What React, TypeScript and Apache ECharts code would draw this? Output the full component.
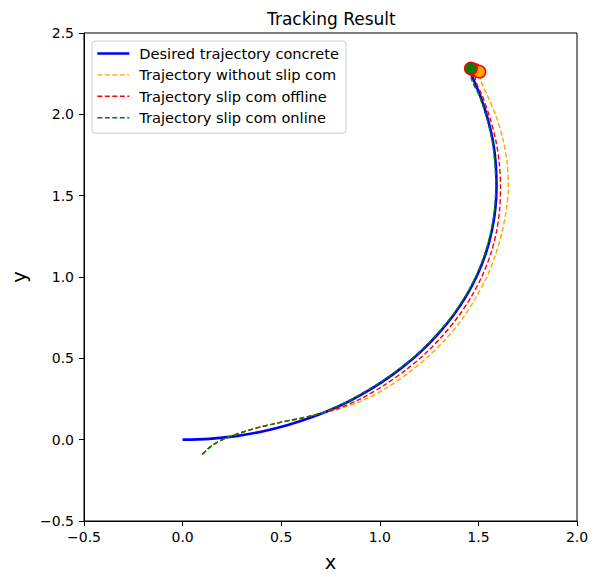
import React, { useEffect, useRef } from 'react';
import * as echarts from 'echarts';

// Desired trajectory (x, y)
const desired: [number, number][] = [
  [0.0, 0.0], [0.1359, 0.0049], [0.2709, 0.0217], [0.404, 0.0502], [0.5342, 0.0902],
  [0.661, 0.1405], [0.7835, 0.2009], [0.8999, 0.2728], [1.0105, 0.3538], [1.1137, 0.4443],
  [1.2096, 0.543], [1.2959, 0.6506], [1.3735, 0.765], [1.4401, 0.8865], [1.495, 1.0138],
  [1.5378, 1.146], [1.5678, 1.2815], [1.5859, 1.4192], [1.592, 1.558], [1.5879, 1.6969],
  [1.5737, 1.8355], [1.5474, 1.9726], [1.511, 2.108], [1.4655, 2.2414], [1.4551, 2.2677],
];

// Common start of the three tracked trajectories
const trackedStart: [number, number][] = [
  [0.1, -0.09], [0.125, -0.06], [0.15, -0.036], [0.175, -0.016], [0.2, -0.001],
  [0.23, 0.014], [0.26, 0.028], [0.3, 0.044], [0.35, 0.063], [0.4, 0.08],
  [0.45, 0.094], [0.5, 0.108], [0.55, 0.12], [0.6, 0.132], [0.65, 0.146], [0.7, 0.162],
];

// Trajectory without slip compensation (after the common start)
const withoutSlipRest: [number, number][] = [
  [0.791, 0.188], [0.92, 0.2441], [1.0381, 0.3208], [1.1462, 0.4118], [1.2463, 0.5122],
  [1.3369, 0.6219], [1.4168, 0.74], [1.4836, 0.8662], [1.5411, 0.9971], [1.5861, 1.133],
  [1.619, 1.2725], [1.6417, 1.4144], [1.652, 1.558], [1.6457, 1.702], [1.6249, 1.8445],
  [1.5909, 1.9843], [1.5439, 2.1199], [1.5142, 2.2008], [1.505, 2.262],
];

// Trajectory with slip compensation, offline (after the common start)
const slipOfflineRest: [number, number][] = [
  [0.7885, 0.1923], [0.9114, 0.2564], [1.0246, 0.3369], [1.1307, 0.4273], [1.2287, 0.527],
  [1.3164, 0.6363], [1.3952, 0.7525], [1.4628, 0.8759], [1.5185, 1.0053], [1.5619, 1.1395],
  [1.5915, 1.2774], [1.6079, 1.4173], [1.612, 1.558], [1.6059, 1.6985], [1.5885, 1.8381],
  [1.559, 1.9757], [1.5204, 2.1114], [1.4845, 2.219], [1.483, 2.272],
];

// Trajectory with slip compensation, online (after the common start)
const slipOnlineRest: [number, number][] = [
  [0.7825, 0.2027], [0.8977, 0.276], [1.0079, 0.3568], [1.1109, 0.4471], [1.2065, 0.5456],
  [1.2926, 0.6529], [1.3701, 0.767], [1.4365, 0.8881], [1.4913, 1.0152], [1.5339, 1.147],
  [1.5639, 1.2822], [1.582, 1.4196], [1.588, 1.558], [1.5839, 1.6966], [1.5698, 1.8348],
  [1.5436, 1.9716], [1.5073, 2.1066], [1.4619, 2.2397], [1.462, 2.282],
];

const withoutSlip = [...trackedStart, ...withoutSlipRest];
const slipOffline = [...trackedStart, ...slipOfflineRest];
const slipOnline = [...trackedStart, ...slipOnlineRest];

// Final positions (drawn as circles with red edges)
const endPoints: { name: string; value: [number, number]; color: string }[] = [
  { name: 'end offline', value: [1.483, 2.272], color: '#ff0000' },
  { name: 'end without', value: [1.505, 2.262], color: '#ffa500' },
  { name: 'end online', value: [1.462, 2.282], color: '#008000' },
];

const seriesNames = [
  'Desired trajectory concrete',
  'Trajectory without slip com',
  'Trajectory slip com offline',
  'Trajectory slip com online',
];
const seriesColors = ['#0000ff', '#ffa500', '#ff0000', '#008000'];

const FONT = 'DejaVu Sans';
const DASH = [5, 2.5];

const fmt = (v: number) => (v < 0 ? '\u2212' + Math.abs(v).toFixed(1) : v.toFixed(1));

export default function App() {
  const ref = useRef<HTMLDivElement>(null);
  useEffect(() => {
    if (!ref.current) return;
    const chart = echarts.init(ref.current, undefined, { renderer: 'svg' });
    const dashed = (color: string) => ({ color, width: 1.4, type: DASH as any });
    const lineData = [desired, withoutSlip, slipOffline, slipOnline];
    chart.setOption({
      animation: false,
      backgroundColor: '#fff',
      title: {
        text: 'Tracking Result',
        left: 262,
        top: 5,
        textStyle: { fontFamily: FONT, fontSize: 17, fontWeight: 'normal', color: '#000' },
      },
      legend: {
        orient: 'vertical',
        left: 92,
        top: 41,
        padding: [5, 7, 8, 4],
        itemWidth: 32,
        itemHeight: 14,
        itemGap: 6.4,
        borderColor: '#cccccc',
        borderWidth: 1,
        borderRadius: 3,
        backgroundColor: 'rgba(255,255,255,0.8)',
        data: seriesNames.map((name, i) => ({
          name,
          lineStyle:
            i === 0
              ? { color: seriesColors[i], width: 2.6, type: 'solid' }
              : { color: seriesColors[i], width: 1.4, type: DASH },
        })),
        itemStyle: { opacity: 0 },
        textStyle: { fontFamily: FONT, fontSize: 14.6, color: '#000', padding: [0, 0, 0, 5] },
      },
      grid: {
        left: 84,
        top: 33,
        width: 493,
        height: 491,
        show: true,
        borderColor: '#000',
        borderWidth: 1,
        backgroundColor: 'transparent',
      },
      xAxis: {
        type: 'value',
        min: -0.5,
        max: 2.0,
        interval: 0.5,
        name: 'x',
        nameLocation: 'middle',
        nameGap: 31,
        nameTextStyle: { fontFamily: FONT, fontSize: 19.5, color: '#000' },
        axisLine: { show: true, onZero: false, lineStyle: { color: '#000', width: 1 } },
        axisTick: { show: true, length: 5, lineStyle: { color: '#000' } },
        axisLabel: { formatter: fmt, fontFamily: FONT, fontSize: 14, color: '#000', margin: 9 },
        splitLine: { show: false },
      },
      yAxis: {
        type: 'value',
        min: -0.5,
        max: 2.5,
        interval: 0.5,
        name: 'y',
        nameLocation: 'middle',
        nameGap: 49,
        nameTextStyle: { fontFamily: FONT, fontSize: 19.5, color: '#000' },
        axisLine: { show: true, onZero: false, lineStyle: { color: '#000', width: 1 } },
        axisTick: { show: true, length: 5, lineStyle: { color: '#000' } },
        axisLabel: { formatter: fmt, fontFamily: FONT, fontSize: 14, color: '#000', margin: 10 },
        splitLine: { show: false },
      },
      series: [
        ...seriesNames.map((name, i) => ({
          name,
          type: 'line',
          data: lineData[i],
          symbol: 'none',
          smooth: 0.3,
          lineStyle: i === 0 ? { color: seriesColors[i], width: 2.6 } : dashed(seriesColors[i]),
          itemStyle: { color: seriesColors[i] },
        })),
        ...endPoints.map((p) => ({
          name: p.name,
          type: 'scatter',
          data: [p.value],
          symbol: 'circle',
          symbolSize: 12.5,
          itemStyle: { color: p.color, borderColor: '#ff0000', borderWidth: 1.5, opacity: 1 },
          z: 5,
        })),
      ],
    });
    return () => chart.dispose();
  }, []);
  return (
    <div
      ref={ref}
      style={{ position: 'fixed', left: 0, top: 0, width: 598, height: 577, background: '#fff' }}
    />
  );
}
